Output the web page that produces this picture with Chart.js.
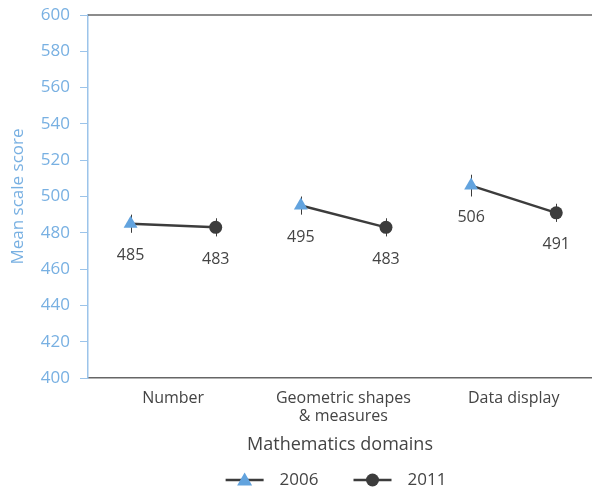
<!DOCTYPE html>
<html>
<head>
<meta charset="utf-8">
<script src="https://cdn.jsdelivr.net/npm/chart.js@4/dist/chart.umd.min.js"></script>
<style>
  html, body { margin: 0; padding: 0; background: #fff; }
  #wrap { width: 592px; height: 493px; }
</style>
</head>
<body>
<div id="wrap"><canvas id="c" width="592" height="493"></canvas></div>
<script>
// Mean scale scores by mathematics domain
const categories = ['Number', ['Geometric shapes', '& measures'], 'Data display'];
const years = ['2006', '2011'];
const scores2006 = [485, 495, 506];
const scores2011 = [483, 483, 491];
// half-length of the confidence interval drawn through each marker
const err2006 = [5, 5, 6];
const err2011 = [5, 5, 5];
const yMin = 400, yMax = 600, yStep = 20;

const BLUE = '#62a3de';
const BLUE_TEXT = '#78b0e2';
const DARK = '#3c3c3c';
const TEXT = '#444444';
const FONT = '"Open Sans", "Noto Sans", sans-serif';

// position of each year inside its domain slot
const yearOffset = [0.25, 0.75];

const pts2006 = scores2006.map((v, i) => ({ x: i + yearOffset[0], y: v, e: err2006[i] }));
const pts2011 = scores2011.map((v, i) => ({ x: i + yearOffset[1], y: v, e: err2011[i] }));

// one connecting segment per domain
const connectors = categories.map((c, i) => ({
  type: 'line',
  label: '_link' + i,
  data: [pts2006[i], pts2011[i]],
  borderColor: DARK,
  borderWidth: 2.5,
  pointRadius: 0,
  pointHoverRadius: 0,
  fill: false,
  order: 2
}));

const markerSets = [
  { label: years[0], data: pts2006, style: 'triangle', radius: 8, color: BLUE },
  { label: years[1], data: pts2011, style: 'circle', radius: 6.5, color: DARK }
];

function drawMarker(ctx, style, color, cx, cy) {
  ctx.fillStyle = color;
  ctx.beginPath();
  if (style === 'triangle') {
    ctx.moveTo(cx, cy - 7.5); ctx.lineTo(cx + 7.5, cy + 5.5); ctx.lineTo(cx - 7.5, cy + 5.5); ctx.closePath();
  } else {
    ctx.arc(cx, cy, 6.5, 0, Math.PI * 2);
  }
  ctx.fill();
}

// error bars, value labels, top frame line and the legend row
const decorations = {
  id: 'decorations',
  beforeDatasetsDraw(chart) {
    const { ctx, scales: { x, y } } = chart;
    ctx.save();
    ctx.strokeStyle = DARK;
    ctx.lineWidth = 1;
    markerSets.forEach(s => s.data.forEach(p => {
      const px = Math.round(x.getPixelForValue(p.x)) + 0.5;
      ctx.beginPath();
      ctx.moveTo(px, y.getPixelForValue(p.y + p.e));
      ctx.lineTo(px, y.getPixelForValue(p.y - p.e));
      ctx.stroke();
    }));
    ctx.restore();
  },
  afterDatasetsDraw(chart) {
    const { ctx, chartArea, scales: { x, y } } = chart;
    ctx.save();
    ctx.strokeStyle = '#666';
    ctx.lineWidth = 1.5;
    ctx.beginPath();
    ctx.moveTo(chartArea.left, chartArea.top);
    ctx.lineTo(chartArea.right, chartArea.top);
    ctx.stroke();
    ctx.fillStyle = TEXT;
    ctx.font = '16px ' + FONT;
    ctx.textAlign = 'center';
    ctx.textBaseline = 'middle';
    markerSets.forEach(s => s.data.forEach(p => {
      ctx.fillText(String(p.y), x.getPixelForValue(p.x), y.getPixelForValue(p.y) + 32);
    }));
    ctx.restore();
  },
  afterDraw(chart) {
    // legend: line sample with marker, then the year
    const { ctx, chartArea } = chart;
    const lineW = 38, gapText = 16, gapItem = 35;
    ctx.save();
    ctx.font = '17px ' + FONT;
    const widths = markerSets.map(s => lineW + gapText + ctx.measureText(s.label).width);
    const total = widths.reduce((a, b) => a + b, 0) + gapItem * (markerSets.length - 1);
    let cx = (chartArea.left + chartArea.right) / 2 - total / 2 - 4;
    const cy = chart.height - 13;
    markerSets.forEach((s, k) => {
      ctx.strokeStyle = DARK;
      ctx.lineWidth = 2.5;
      ctx.beginPath();
      ctx.moveTo(cx, cy); ctx.lineTo(cx + lineW, cy);
      ctx.stroke();
      drawMarker(ctx, s.style, s.color, cx + lineW / 2, cy);
      ctx.fillStyle = TEXT;
      ctx.textAlign = 'left';
      ctx.textBaseline = 'middle';
      ctx.fillText(s.label, cx + lineW + gapText, cy);
      cx += widths[k] + gapItem;
    });
    ctx.restore();
  }
};

new Chart(document.getElementById('c'), {
  data: {
    datasets: [
      ...connectors,
      ...markerSets.map(s => ({
        type: 'scatter',
        label: s.label,
        data: s.data,
        pointStyle: s.style,
        pointRadius: s.radius,
        pointHoverRadius: s.radius,
        backgroundColor: s.color,
        borderWidth: 0,
        order: 1
      }))
    ]
  },
  options: {
    responsive: false,
    animation: false,
    events: [],
    layout: { autoPadding: false, padding: { top: 15, right: 0, bottom: 37, left: 0 } },
    scales: {
      x: {
        type: 'linear',
        min: 0,
        max: 2.96,
        afterBuildTicks(scale) {
          scale.ticks = categories.map((c, i) => ({ value: i + 0.5 }));
        },
        afterFit(scale) {
          scale.height = 78;
          scale.paddingLeft = 0;
          scale.paddingRight = 0;
        },
        ticks: {
          autoSkip: false,
          maxRotation: 0,
          padding: 11,
          color: TEXT,
          font: { family: FONT, size: 16, lineHeight: 1.15 },
          callback(v) {
            const i = Math.round(v - 0.5);
            return categories[i];
          }
        },
        grid: { display: false, drawTicks: false },
        border: { color: '#666', width: 1.5 },
        title: {
          display: true,
          text: 'Mathematics domains',
          color: TEXT,
          font: { family: FONT, size: 18 },
          padding: { top: 10, bottom: 0 }
        }
      },
      y: {
        min: yMin,
        max: yMax,
        afterFit(scale) {
          scale.width = 88;
          scale.paddingTop = 0;
          scale.paddingBottom = 0;
        },
        ticks: {
          stepSize: yStep,
          color: BLUE_TEXT,
          padding: 10,
          font: { family: FONT, size: 17 }
        },
        grid: {
          drawOnChartArea: false,
          drawTicks: true,
          tickLength: 8,
          color: '#9cc4ea'
        },
        border: { color: '#9cc4ea', width: 1.5 },
        title: {
          display: true,
          text: 'Mean scale score',
          color: BLUE_TEXT,
          font: { family: FONT, size: 17 },
          padding: { top: 8, bottom: 0 }
        }
      }
    },
    plugins: {
      tooltip: { enabled: false },
      legend: { display: false }
    }
  },
  plugins: [decorations]
});
</script>
</body>
</html>
